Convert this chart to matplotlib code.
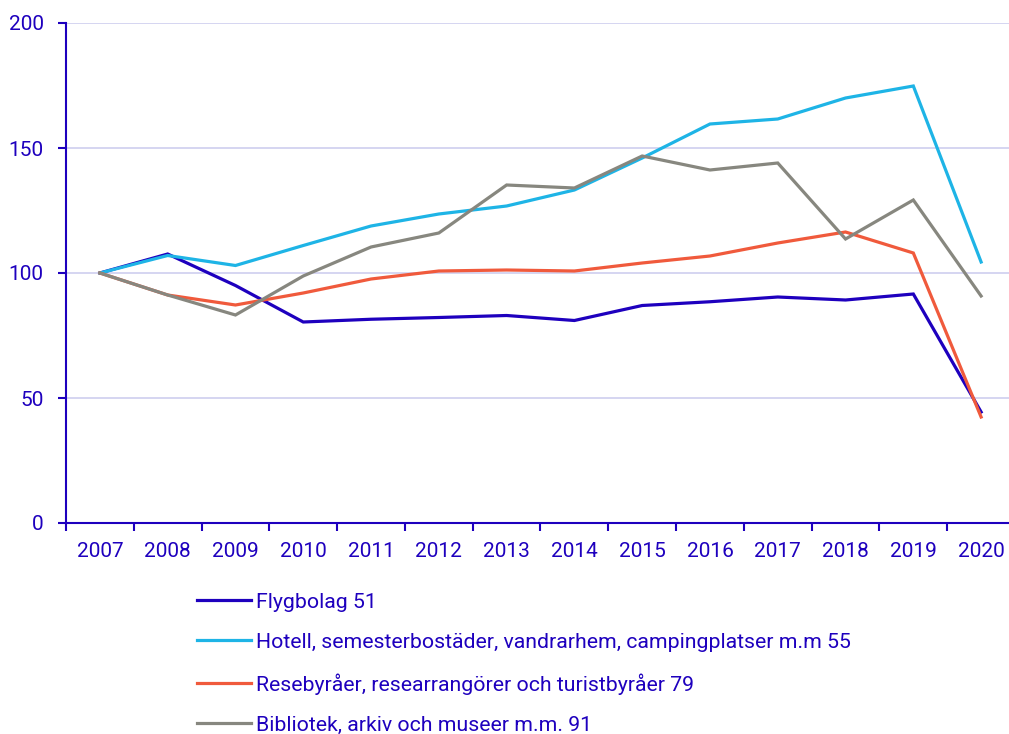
import numpy as np
import matplotlib.pyplot as plt
from matplotlib.ticker import FixedLocator

plt.rcParams['font.family'] = ['Roboto', 'DejaVu Sans']

years = ['2007', '2008', '2009', '2010', '2011', '2012', '2013',
         '2014', '2015', '2016', '2017', '2018', '2019', '2020']

flyg = [100, 107.6, 95, 80.4, 81.5, 82.2, 83, 81, 87, 88.5, 90.4, 89.2, 91.6, 44.4]
hotell = [100, 107, 103, 111, 118.8, 123.6, 126.8, 133.2, 146, 159.6, 161.6, 170, 174.8, 104.4]
rese = [100, 91.2, 87.2, 92, 97.6, 100.8, 101.2, 100.8, 104, 106.8, 112, 116.4, 108, 42.4]
bibl = [100, 91.2, 83.2, 98.8, 110.4, 116, 135.2, 134, 146.8, 141.2, 144, 113.6, 129.2, 90.8]

names = ['Flygbolag 51',
         'Hotell, semesterbostäder, vandrarhem, campingplatser m.m 55',
         'Resebyråer, researrangörer och turistbyråer 79',
         'Bibliotek, arkiv och museer m.m. 91']

txt = '#1e00be'
colors = ['#1e00be', '#1eb4e6', '#f05a3c', '#87877f']

fig = plt.figure(figsize=(10.09, 7.34), dpi=100)
ax = fig.add_axes([66/1009, 1-523/734, 949/1009, 500/734])

x = np.arange(len(years))
for vals, c, n in zip([flyg, hotell, rese, bibl], colors, names):
    ax.plot(x, vals, color=c, lw=2.3, label=n, solid_joinstyle='miter')

ax.set_xlim(-0.5, len(years) - 0.5)
ax.set_ylim(0, 200)
ax.set_yticks([0, 50, 100, 150, 200])
ax.set_xticks(x)
ax.set_xticklabels(years)
ax.xaxis.set_minor_locator(FixedLocator(np.arange(-0.5, len(years), 1)))
ax.tick_params(axis='x', which='major', length=0, pad=14, labelsize=15, labelcolor=txt)
ax.tick_params(axis='x', which='minor', length=6, width=1.5, color=txt, direction='out')
ax.tick_params(axis='y', length=6, width=1.5, color=txt, labelsize=15, labelcolor=txt, pad=10)

ax.grid(axis='y', color='#d2d2f0', lw=1.3)
ax.set_axisbelow(True)
for s in ['top', 'right']:
    ax.spines[s].set_visible(False)
for s in ['left', 'bottom']:
    ax.spines[s].set_color(txt)
    ax.spines[s].set_linewidth(1.5)

leg = fig.legend(loc='upper left', bbox_to_anchor=(188/1009, 1-584/734), frameon=False,
                 fontsize=15.3, handlelength=2.55, handletextpad=0.24, labelspacing=1.0,
                 borderaxespad=0)
for t in leg.get_texts():
    t.set_color(txt)

fig.savefig('out.png', dpi=100)
